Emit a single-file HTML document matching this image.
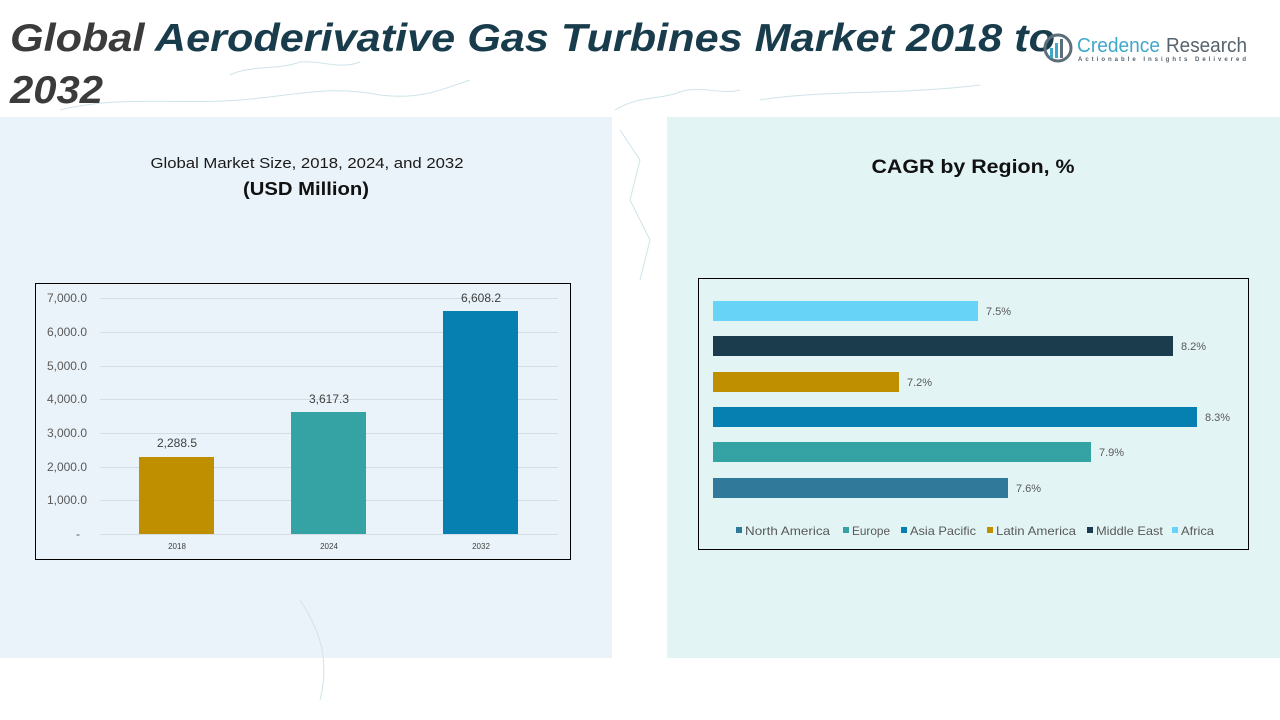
<!DOCTYPE html>
<html><head><meta charset="utf-8"><style>
html,body{margin:0;padding:0;background:#fff;}
svg{display:block;font-family:"Liberation Sans",sans-serif;}
</style></head><body>
<svg width="1280" height="720" viewBox="0 0 1280 720" xmlns="http://www.w3.org/2000/svg">
<rect width="1280" height="720" fill="#ffffff"/>
<!-- panels -->
<rect x="0" y="117" width="612" height="541" fill="#eaf3f9"/>
<rect x="667" y="117" width="613" height="541" fill="#e3f4f5"/>
<!-- faint map hints -->
<g fill="none" stroke="#cfe3ea" stroke-width="1">
<path d="M60 110 C120 95 180 105 240 100 S330 85 380 95 C420 100 440 90 470 80"/>
<path d="M230 75 C250 65 280 70 300 62 C320 60 340 70 360 62"/>
<path d="M615 110 C640 95 660 100 680 92 C700 85 720 95 740 90"/>
<path d="M620 130 L640 160 L630 200 L650 240 L640 280"/>
<path d="M300 600 C320 630 330 660 320 700"/>
<path d="M760 100 C820 90 900 95 980 85"/>
</g>
<!-- title -->
<text x="10" y="51" font-size="39" font-weight="bold" font-style="italic" textLength="1045" lengthAdjust="spacingAndGlyphs"><tspan fill="#3b3b3b">Global </tspan><tspan fill="#183c4b">Aeroderivative Gas Turbines Market 2018 to</tspan></text>
<text x="10" y="103" font-size="39" font-weight="bold" font-style="italic" fill="#3b3b3b" textLength="93" lengthAdjust="spacingAndGlyphs">2032</text>
<!-- logo -->
<g>
<circle cx="1058" cy="48" r="13" fill="none" stroke="#5d6e7b" stroke-width="3"/>
<rect x="1050" y="48" width="3" height="10" fill="#3fa7c9"/>
<rect x="1055" y="43" width="3" height="15" fill="#3fa7c9"/>
<rect x="1060" y="39" width="3" height="19" fill="#5d6e7b"/>
<text x="1077" y="52" font-size="20" fill="#3fa7c9" textLength="83" lengthAdjust="spacingAndGlyphs">Credence</text>
<text x="1166" y="52" font-size="20" fill="#55636e" textLength="81" lengthAdjust="spacingAndGlyphs">Research</text>
<text x="1078" y="61" font-size="6" font-weight="bold" fill="#55636e" textLength="168" lengthAdjust="spacing">Actionable Insights Delivered</text>
</g>
<!-- left subtitles -->
<text x="307" y="168" font-size="15" fill="#1a1a1a" text-anchor="middle" textLength="313" lengthAdjust="spacingAndGlyphs">Global Market Size, 2018, 2024, and 2032</text>
<text x="306" y="195" font-size="18" font-weight="bold" fill="#111" text-anchor="middle" textLength="126" lengthAdjust="spacingAndGlyphs">(USD Million)</text>
<!-- right subtitle -->
<text x="973" y="173" font-size="19" font-weight="bold" fill="#111" text-anchor="middle" textLength="203" lengthAdjust="spacingAndGlyphs">CAGR by Region, %</text>

<!-- left chart -->
<rect x="35.5" y="283.5" width="535" height="276" fill="none" stroke="#000" stroke-width="1"/>
<g stroke="#d4dde3" stroke-width="1">
<line x1="100" y1="298.5" x2="558" y2="298.5"/>
<line x1="100" y1="332.5" x2="558" y2="332.5"/>
<line x1="100" y1="366.5" x2="558" y2="366.5"/>
<line x1="100" y1="399.5" x2="558" y2="399.5"/>
<line x1="100" y1="433.5" x2="558" y2="433.5"/>
<line x1="100" y1="467.5" x2="558" y2="467.5"/>
<line x1="100" y1="500.5" x2="558" y2="500.5"/>
<line x1="100" y1="534.5" x2="558" y2="534.5"/>
</g>
<g font-size="12" fill="#595959" text-anchor="end">
<text x="87" y="302">7,000.0</text>
<text x="87" y="336">6,000.0</text>
<text x="87" y="370">5,000.0</text>
<text x="87" y="403">4,000.0</text>
<text x="87" y="437">3,000.0</text>
<text x="87" y="471">2,000.0</text>
<text x="87" y="504">1,000.0</text>
<text x="80" y="538">-</text>
</g>
<rect x="139" y="457" width="75" height="77" fill="#bf8f00"/>
<rect x="291" y="412" width="75" height="122" fill="#35a3a3"/>
<rect x="443" y="311" width="75" height="223" fill="#0580b1"/>
<g font-size="12" fill="#404040" text-anchor="middle">
<text x="177" y="447">2,288.5</text>
<text x="329" y="403">3,617.3</text>
<text x="481" y="302">6,608.2</text>
</g>
<g font-size="8" fill="#404040" text-anchor="middle">
<text x="177" y="549">2018</text>
<text x="329" y="549">2024</text>
<text x="481" y="549">2032</text>
</g>

<!-- right chart -->
<rect x="698.5" y="278.5" width="550" height="271" fill="none" stroke="#000" stroke-width="1"/>
<rect x="713" y="301" width="265" height="20" fill="#66d3f7"/>
<rect x="713" y="336" width="460" height="20" fill="#1a3c4c"/>
<rect x="713" y="372" width="186" height="20" fill="#bf8f00"/>
<rect x="713" y="407" width="484" height="20" fill="#0580b1"/>
<rect x="713" y="442" width="378" height="20" fill="#35a3a3"/>
<rect x="713" y="478" width="295" height="20" fill="#31799b"/>
<g font-size="11" fill="#595959">
<text x="986" y="315">7.5%</text>
<text x="1181" y="350">8.2%</text>
<text x="907" y="386">7.2%</text>
<text x="1205" y="421">8.3%</text>
<text x="1099" y="456">7.9%</text>
<text x="1016" y="492">7.6%</text>
</g>
<!-- legend -->
<g font-size="12" fill="#595959">
<rect x="736" y="527" width="6" height="6" fill="#31799b"/>
<text x="745" y="535" textLength="85" lengthAdjust="spacingAndGlyphs">North America</text>
<rect x="843" y="527" width="6" height="6" fill="#35a3a3"/>
<text x="852" y="535" textLength="38" lengthAdjust="spacingAndGlyphs">Europe</text>
<rect x="901" y="527" width="6" height="6" fill="#0580b1"/>
<text x="910" y="535" textLength="66" lengthAdjust="spacingAndGlyphs">Asia Pacific</text>
<rect x="987" y="527" width="6" height="6" fill="#bf8f00"/>
<text x="996" y="535" textLength="80" lengthAdjust="spacingAndGlyphs">Latin America</text>
<rect x="1087" y="527" width="6" height="6" fill="#1a3c4c"/>
<text x="1096" y="535" textLength="67" lengthAdjust="spacingAndGlyphs">Middle East</text>
<rect x="1172" y="527" width="6" height="6" fill="#66d3f7"/>
<text x="1181" y="535" textLength="33" lengthAdjust="spacingAndGlyphs">Africa</text>
</g>
</svg>
</body></html>
